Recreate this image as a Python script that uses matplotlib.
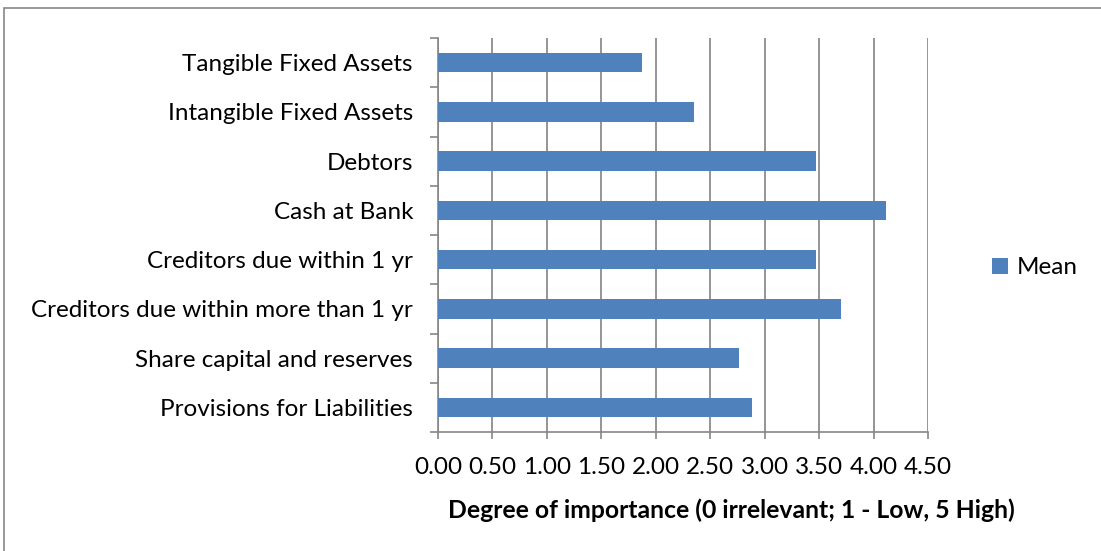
import matplotlib
matplotlib.use("Agg")
import matplotlib.pyplot as plt
from matplotlib.patches import Rectangle
import numpy as np

categories = ["Tangible Fixed Assets", "Intangible Fixed Assets", "Debtors", "Cash at Bank",
              "Creditors due within 1 yr", "Creditors due within more than 1 yr",
              "Share capital and reserves", "Provisions for Liabilities"]
mean_values = [1.87, 2.35, 3.47, 4.11, 3.47, 3.70, 2.76, 2.88]
xticks = [0, 0.5, 1.0, 1.5, 2.0, 2.5, 3.0, 3.5, 4.0, 4.5]
xlabel = "Degree of importance (0 irrelevant; 1 - Low, 5 High)"
series_name = "Mean"

plt.rcParams['font.family'] = ['Lato', 'DejaVu Sans']
fig = plt.figure(figsize=(11.01, 5.51), dpi=100)
ax = fig.add_axes([438/1101, 1-432/551, (928-438)/1101, (432-38)/551])

FS = 17.5
n = len(categories)
y = np.arange(n)[::-1]
bar_color = "#4F81BD"
ax.barh(y, mean_values, height=0.4, color=bar_color, label=series_name, zorder=3)
ax.set_ylim(-0.5, n-0.5)
ax.set_xlim(0, 4.5)

ax.set_yticks(y)
ax.set_yticklabels(categories, fontsize=FS)
ax.set_yticks(np.arange(-0.5, n, 1.0), minor=True)
ax.tick_params(axis='y', which='major', length=0, pad=18)
ax.tick_params(axis='y', which='minor', length=6, color="#868686", width=1.2)

ax.set_xticks(xticks)
ax.set_xticklabels([f"{v:.2f}" for v in xticks], fontsize=FS)
ax.tick_params(axis='x', length=5, color="#868686", width=1.2, pad=13)
ax.xaxis.grid(True, color="#8c8c8c", linewidth=1.3, zorder=0)
ax.set_axisbelow(True)

for s in ["top", "right"]:
    ax.spines[s].set_visible(False)
for s in ["left", "bottom"]:
    ax.spines[s].set_color("#868686")
    ax.spines[s].set_linewidth(1.2)

ax.set_xlabel(xlabel, fontsize=17.8, fontweight='bold')
ax.xaxis.set_label_coords((731-438)/490, -(510-432)/394, transform=ax.transAxes)
ax.xaxis.label.set_va('center')

ax.legend(loc='center left', bbox_to_anchor=(992/1101, 283/551), bbox_transform=fig.transFigure,
          frameon=False, fontsize=FS, handlelength=0.65, handleheight=0.65, handletextpad=0.35,
          borderpad=0, borderaxespad=0)

fig.patches.append(Rectangle((4/1101, -0.1), 1.2, 1-8/551+0.1, transform=fig.transFigure,
                             fill=False, edgecolor="#868686", linewidth=1.2))

fig.savefig("out.png", dpi=100)
